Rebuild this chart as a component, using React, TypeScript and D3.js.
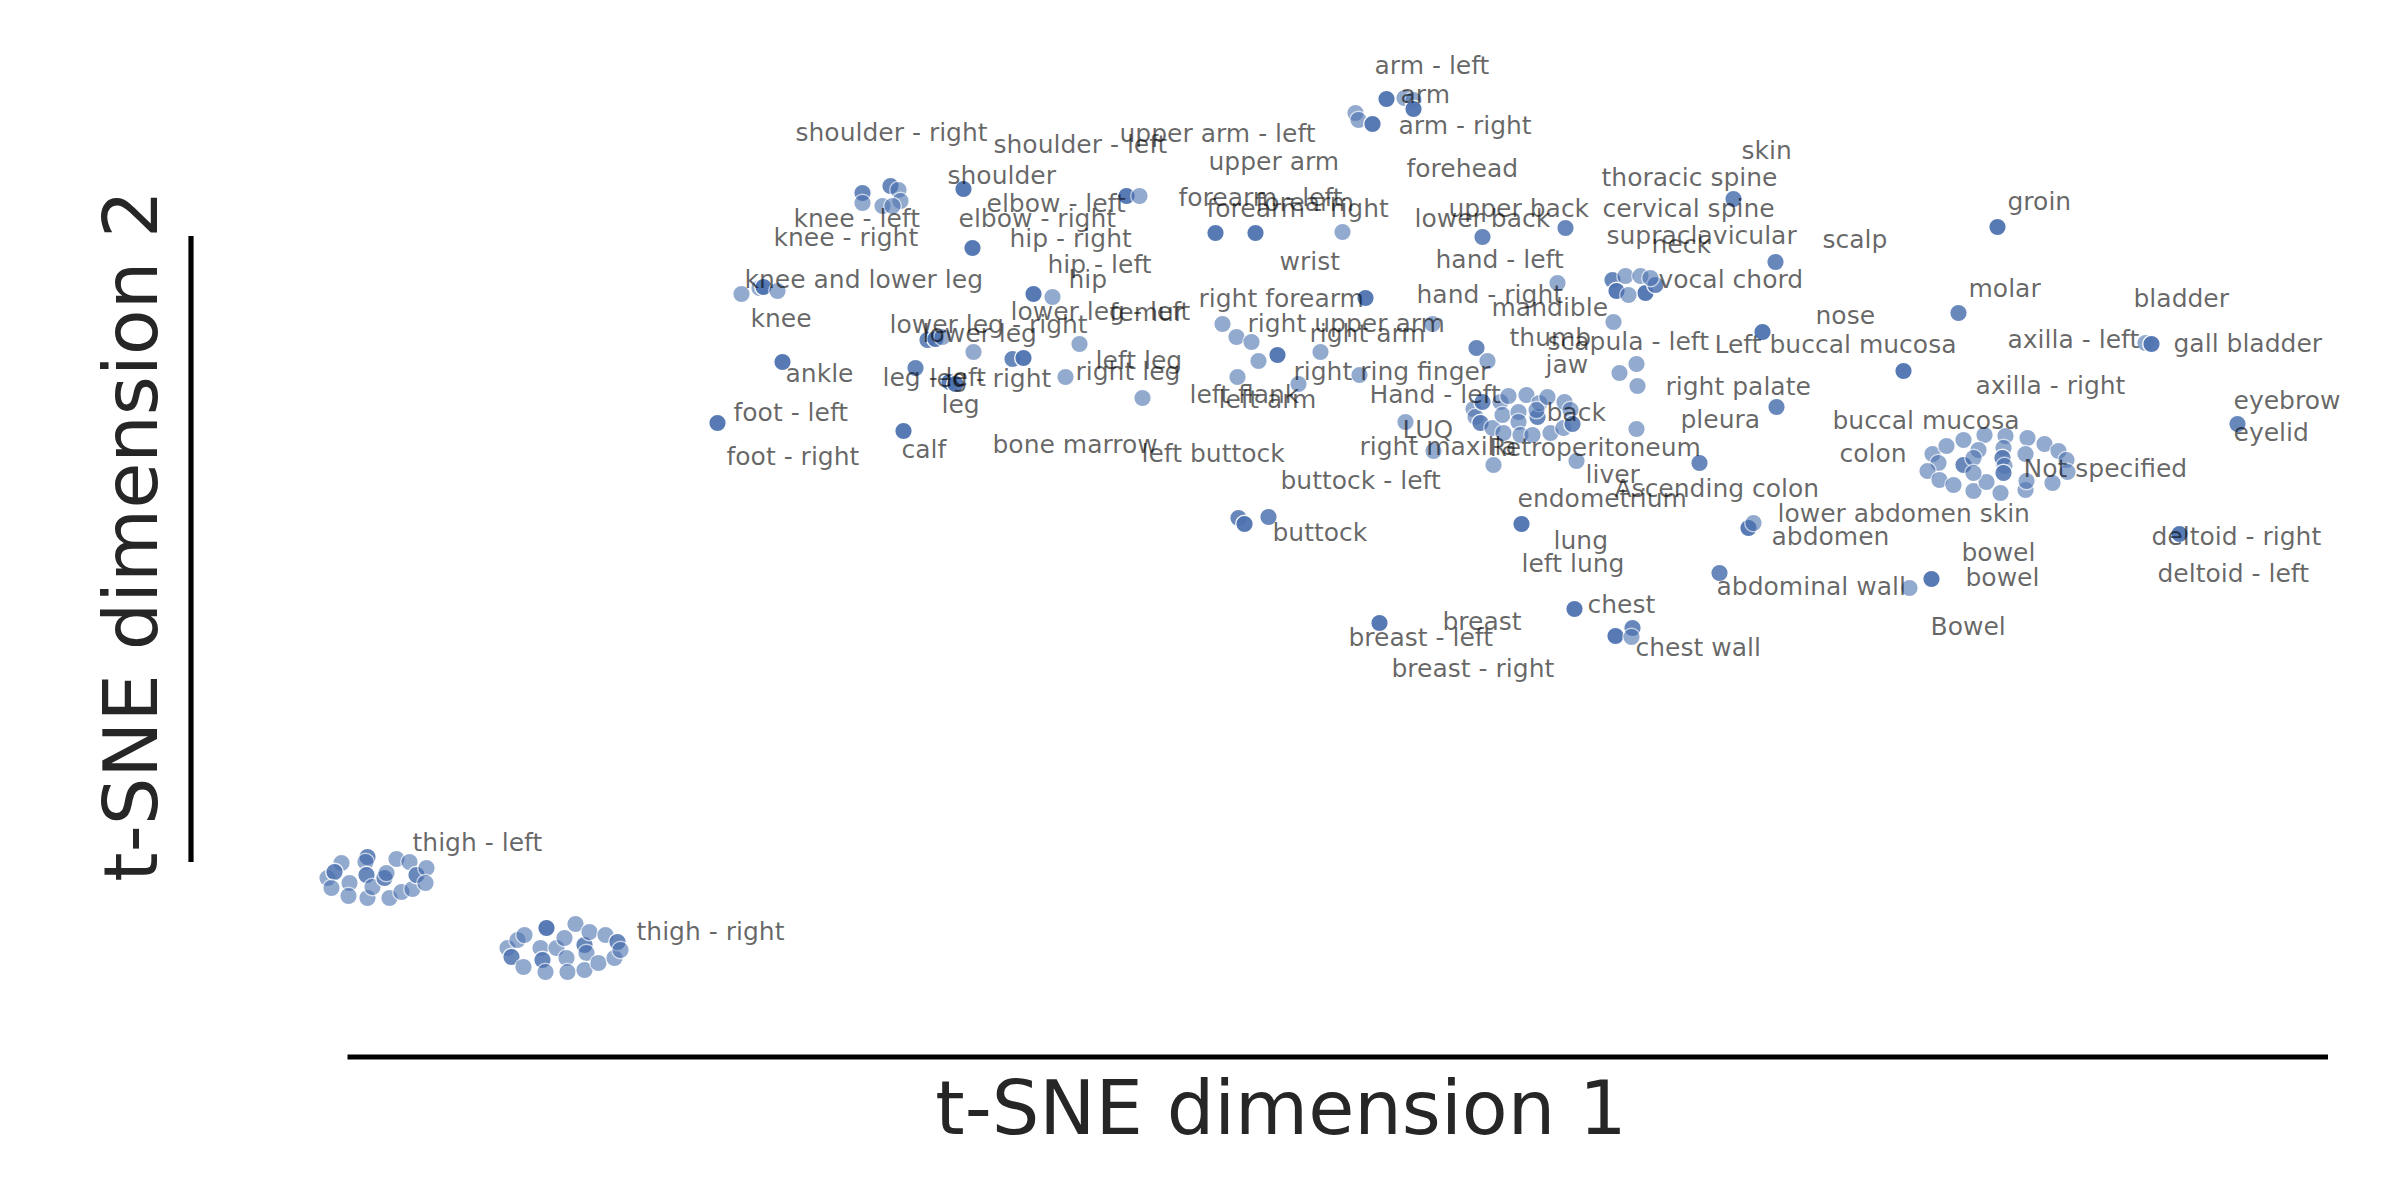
import React from "react";
import * as d3 from "d3";

// points: [tSNE1, tSNE2, overlapping samples]
const thighLeft: [number, number, number][] = [
  [-99.6, -31.4, 1], [-101.0, -32.9, 1], [-100.3, -32.3, 2], [-100.6, -33.9, 1], [-98.8, -33.4, 1],
  [-98.9, -34.7, 1], [-97.0, -30.8, 2], [-97.2, -31.3, 1], [-97.1, -32.6, 2], [-97.0, -34.9, 1],
  [-96.5, -33.8, 1], [-95.3, -32.9, 2], [-95.1, -32.4, 1], [-94.8, -34.9, 1], [-94.1, -31.0, 1],
  [-93.6, -34.3, 1], [-92.8, -31.3, 1], [-92.5, -34.0, 1], [-92.1, -32.6, 2], [-91.1, -31.9, 1],
  [-91.2, -33.4, 1],
];
const thighRight: [number, number, number][] = [
  [-83.0, -39.9, 1], [-82.0, -39.1, 1], [-81.3, -38.6, 1], [-82.6, -40.8, 2], [-81.4, -41.8, 1],
  [-79.7, -39.9, 1], [-79.5, -41.1, 2], [-79.1, -37.9, 3], [-79.2, -42.3, 1], [-78.1, -39.9, 1],
  [-77.3, -38.9, 1], [-77.1, -40.9, 1], [-77.0, -42.3, 1], [-76.2, -37.5, 1], [-75.3, -39.6, 2],
  [-75.1, -40.4, 1], [-75.3, -42.1, 1], [-74.8, -38.3, 1], [-73.9, -41.4, 1], [-73.2, -38.6, 1],
  [-72.3, -40.9, 1], [-72.0, -39.3, 2], [-71.7, -40.1, 1],
];
const legPoints: [number, number, number][] = [
  [-47.5, 35.6, 2], [-47.5, 34.6, 1], [-44.7, 36.3, 2], [-43.9, 35.9, 1], [-43.7, 34.8, 1],
  [-45.5, 34.3, 1], [-44.5, 34.3, 1], [-37.4, 36.0, 3], [-21.1, 35.3, 3], [-19.8, 35.3, 1],
  [-36.5, 30.1, 3], [-59.6, 25.5, 1], [-57.8, 26.1, 1], [-57.4, 26.2, 3], [-56.0, 25.8, 1],
  [-30.4, 25.5, 3], [-28.5, 25.2, 1], [-41.0, 20.9, 2], [-40.2, 21.0, 3], [-39.5, 21.2, 1],
  [-36.4, 19.7, 1], [-32.5, 19.0, 2], [-31.4, 19.1, 3], [-25.8, 20.5, 1], [-42.2, 18.1, 2],
  [-38.8, 16.7, 3], [-38.2, 16.5, 3], [-27.2, 17.2, 1], [-19.5, 15.1, 1], [-55.5, 18.7, 3],
  [-62.0, 12.6, 3], [-43.4, 11.8, 3],
];
const armPoints: [number, number, number][] = [
  [4.9, 45.0, 3], [6.7, 45.1, 1], [7.6, 44.9, 1], [7.6, 44.0, 3], [1.8, 43.6, 1],
  [2.1, 42.9, 1], [3.5, 42.5, 3], [-12.2, 31.6, 3], [-8.2, 31.6, 3], [0.5, 31.7, 1],
  [14.5, 31.2, 2], [2.8, 25.1, 3], [-11.5, 22.5, 1], [-10.1, 21.2, 1], [-8.6, 20.7, 1],
  [-6.0, 19.4, 3], [-7.9, 18.8, 1], [-1.7, 19.7, 1], [-10.0, 17.2, 1], [-3.9, 16.5, 1],
  [2.2, 17.4, 1], [9.5, 22.5, 1], [13.9, 20.1, 2], [15.0, 18.8, 1], [6.8, 12.7, 1],
  [9.6, 9.8, 1], [15.6, 8.4, 1], [-9.9, 3.1, 2], [-9.3, 2.5, 3], [-6.9, 3.2, 2],
  [18.4, 2.5, 3], [4.2, -7.4, 3],
];
const trunkHeadPoints: [number, number, number][] = [
  [39.6, 35.0, 2], [22.8, 32.1, 2], [43.8, 28.7, 2], [22.0, 26.6, 1],
  [27.5, 26.9, 2], [27.9, 25.8, 3], [28.8, 27.3, 1], [30.3, 27.3, 1], [30.8, 25.6, 3],
  [29.1, 25.4, 1], [31.8, 26.4, 2], [31.3, 27.1, 1],
  [27.6, 22.7, 1], [42.5, 21.7, 3], [56.6, 17.8, 3], [29.9, 18.5, 1], [28.2, 17.6, 1],
  [30.0, 16.3, 1], [43.9, 14.2, 2], [29.9, 12.0, 1], [23.9, 8.8, 1], [36.2, 8.6, 2],
  [41.1, 2.1, 3], [41.6, 2.6, 1], [38.2, -2.4, 2], [57.2, -3.9, 1], [59.4, -3.0, 3],
  [23.7, -6.0, 3], [27.8, -8.7, 3], [29.5, -7.9, 2], [29.4, -8.8, 1],
  [66.0, 32.2, 3], [62.1, 23.6, 2], [80.8, 20.6, 1], [81.4, 20.5, 3], [90.0, 12.5, 2],
  [84.2, 1.5, 3],
];
const backCluster: [number, number, number][] = [
  [13.6, 14.0, 1], [13.8, 13.2, 1], [14.3, 12.6, 2], [14.5, 14.7, 2], [15.5, 12.1, 1],
  [16.3, 14.7, 1], [16.5, 13.4, 1], [16.6, 11.6, 1], [17.1, 15.3, 1], [18.1, 13.7, 1],
  [18.1, 12.7, 1], [18.3, 11.4, 1], [18.9, 15.4, 1], [19.5, 11.4, 1], [20.0, 13.2, 2],
  [20.2, 14.6, 1], [21.0, 15.2, 1], [21.3, 11.6, 1], [22.6, 12.1, 1], [22.7, 14.7, 1],
  [23.3, 13.9, 1], [23.5, 12.5, 2], [19.9, 13.9, 1],
];
const notSpecifiedCluster: [number, number, number][] = [
  [59.5, 9.5, 1], [60.9, 10.3, 1], [62.6, 10.9, 1], [64.7, 11.4, 1], [66.8, 11.3, 1],
  [69.0, 11.1, 1], [70.7, 10.5, 1], [72.1, 9.8, 1], [72.9, 8.9, 1], [60.1, 8.6, 1],
  [62.6, 8.4, 2], [64.1, 9.9, 1], [63.6, 9.1, 1], [66.6, 10.1, 1], [66.5, 9.1, 2],
  [68.8, 9.5, 1], [66.7, 8.3, 1], [66.6, 7.6, 2], [59.0, 7.8, 1], [60.2, 6.9, 1],
  [61.6, 6.4, 1], [63.6, 5.8, 1], [64.9, 6.7, 1], [66.3, 5.6, 1], [68.8, 5.9, 1],
  [68.9, 6.8, 1], [71.5, 6.6, 1], [73.0, 7.7, 1], [63.6, 7.6, 1],
];

// labels: [text, tSNE1, tSNE2] (text start, baseline)
const sampleLabels: [string, number, number][] = [
  ["shoulder - right", -54.2, 40.8], ["shoulder - left", -34.4, 39.6], ["upper arm - left", -21.8, 40.7],
  ["shoulder", -39.0, 36.5], ["upper arm", -12.9, 37.9], ["elbow - left", -35.1, 33.7],
  ["elbow - right", -37.9, 32.2], ["knee - left", -54.4, 32.2], ["knee - right", -56.4, 30.3],
  ["hip - right", -32.8, 30.2], ["hip - left", -29.0, 27.6], ["hip", -26.9, 26.1],
  ["knee and lower leg", -59.3, 26.1], ["knee", -58.7, 22.2], ["lower leg - left", -32.7, 22.9],
  ["femur", -22.8, 22.8], ["lower leg - right", -44.8, 21.6], ["lower leg", -41.5, 20.7],
  ["ankle", -55.2, 16.7], ["leg - left", -45.5, 16.3], ["leg - right", -40.8, 16.2],
  ["leg", -39.6, 13.6], ["foot - left", -60.4, 12.8], ["foot - right", -61.1, 8.4],
  ["calf", -43.6, 9.1], ["bone marrow", -34.5, 9.6], ["left leg", -24.2, 18.0],
  ["right leg", -26.2, 16.9], ["arm - left", 3.7, 47.5], ["arm", 6.3, 44.6],
  ["arm - right", 6.1, 41.5], ["forehead", 6.9, 37.2], ["forearm - left", -15.9, 34.3],
  ["forearm - right", -13.1, 33.2], ["forearm", -8.2, 33.8], ["wrist", -5.8, 27.9],
  ["lower back", 7.7, 32.2], ["upper back", 11.1, 33.2], ["hand - left", 9.8, 28.1],
  ["hand - right", 7.9, 24.6], ["right forearm", -13.9, 24.2], ["right upper arm", -9.0, 21.7],
  ["right arm", -2.8, 20.7], ["mandible", 15.4, 23.3], ["thumb", 17.2, 20.3],
  ["right ring finger", -4.4, 16.9], ["left flank", -14.8, 14.6], ["left arm", -11.9, 14.1],
  ["Hand - left", 3.2, 14.6], ["LUQ", 6.5, 11.1], ["right maxilla", 2.2, 9.4],
  ["Retroperitoneum", 15.2, 9.3], ["left buttock", -19.6, 8.7], ["buttock - left", -5.7, 6.0],
  ["buttock", -6.5, 0.8], ["breast", 10.5, -8.1], ["breast - left", 1.1, -9.7],
  ["breast - right", 5.4, -12.8], ["endometrium", 18.0, 4.2], ["skin", 40.4, 39.0],
  ["thoracic spine", 26.4, 36.3], ["cervical spine", 26.5, 33.2], ["supraclavicular", 26.9, 30.5],
  ["neck", 31.4, 29.6], ["scalp", 48.5, 30.1], ["vocal chord", 32.1, 26.1],
  ["nose", 47.8, 22.5], ["scapula - left", 21.0, 19.9], ["Left buccal mucosa", 37.7, 19.6],
  ["jaw", 20.8, 17.6], ["right palate", 32.8, 15.4], ["back", 20.9, 12.8],
  ["pleura", 34.3, 12.1], ["buccal mucosa", 49.5, 12.0], ["colon", 50.2, 8.7],
  ["liver", 24.8, 6.6], ["Ascending colon", 27.7, 5.2], ["lower abdomen skin", 44.0, 2.7],
  ["abdomen", 43.4, 0.4], ["lung", 21.6, 0.0], ["left lung", 18.4, -2.3],
  ["abdominal wall", 37.9, -4.6], ["chest", 25.0, -6.4], ["chest wall", 29.8, -10.7],
  ["Bowel", 59.3, -8.6], ["groin", 67.0, 33.9], ["molar", 63.1, 25.2],
  ["bladder", 79.6, 24.2], ["axilla - left", 67.0, 20.1], ["gall bladder", 83.6, 19.7],
  ["axilla - right", 63.8, 15.5], ["eyebrow", 89.6, 14.0], ["eyelid", 89.6, 10.8],
  ["Not specified", 68.6, 7.2], ["deltoid - right", 81.4, 0.4], ["deltoid - left", 82.0, -3.3],
  ["bowel", 62.4, -1.2], ["bowel", 62.8, -3.7], ["thigh - left", -92.5, -30.2],
  ["thigh - right", -70.1, -39.1],
];

const xTickRange = [-99, 99.05];
const yTickRange = [-31.3, 31.3];
const xLabel = "t-SNE dimension 1";
const yLabel = "t-SNE dimension 2";

export default function App() {
  const W = 2400, H = 1200;
  const x = d3.scaleLinear().domain([-100, 100]).range([337.5, 2337.5]);
  const y = d3.scaleLinear().domain([-30, 30]).range([849, 249]);
  const all = [
    ...thighLeft, ...thighRight, ...legPoints, ...armPoints,
    ...trunkHeadPoints, ...backCluster, ...notSpecifiedCluster,
  ];
  const alpha = 0.6;
  const font = "DejaVu Sans";
  return (
    <svg width={W} height={H} style={{ position: "absolute", left: 0, top: 0, background: "#fff" }}>
      <rect width={W} height={H} fill="#fff" />
      <g>
        {all.map((p, i) => (
          <circle
            key={i}
            cx={x(p[0])}
            cy={y(p[1])}
            r={8.8}
            fill="#4c72b0"
            stroke="#fff"
            strokeWidth={1.4}
            opacity={1 - Math.pow(1 - alpha, p[2])}
          />
        ))}
      </g>
      <g fontFamily={font} fontSize={25} fill="#000" fillOpacity={0.6}>
        {sampleLabels.map((l, i) => (
          <text key={i} x={x(l[1])} y={y(l[2])}>{l[0]}</text>
        ))}
      </g>
      <line x1={x(xTickRange[0])} x2={x(xTickRange[1])} y1={1057} y2={1057} stroke="#000" strokeWidth={5.2} />
      <line x1={191} x2={191} y1={y(yTickRange[0])} y2={y(yTickRange[1])} stroke="#000" strokeWidth={5.2} />
      <text x={1281} y={1134} textAnchor="middle" fontFamily={font} fontSize={75} fill="#262626">{xLabel}</text>
      <text transform="translate(157,536) rotate(-90)" textAnchor="middle" fontFamily={font} fontSize={75} fill="#262626">{yLabel}</text>
    </svg>
  );
}
